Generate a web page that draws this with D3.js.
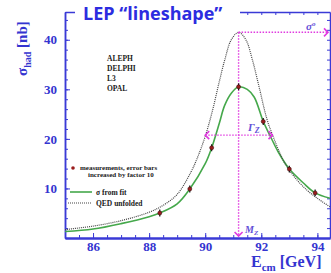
<!DOCTYPE html>
<meta charset="utf-8">
<html>
<head>
<title>LEP lineshape</title>
<style>
body { margin: 0; background: #fff; }
.axis path, .axis line { stroke: #3a3ad6; fill: none; }
.axis text { font-family: "Liberation Serif", serif; font-weight: bold; font-size: 13px; fill: #3434d0; }
.lbl { font-family: "Liberation Serif", serif; font-weight: bold; fill: #1a1a1a; font-size: 7.5px; }
.anno { font-family: "Liberation Serif", serif; font-style: italic; font-weight: bold; fill: #6450d8; }
</style>
</head>
<body>
<svg id="chart" width="331" height="273"></svg>
<script src="https://d3js.org/d3.v7.min.js"></script>
<script>

// QED unfolded curve (dotted)
var qedE     = [85, 86, 87, 88, 88.5, 89, 89.5, 89.75, 90, 90.25, 90.5, 90.7, 90.93, 91.19, 91.45, 91.68, 91.9, 92.2, 92.4, 92.8, 93.2, 93.6, 94, 94.45];
var qedSigma = [1.7, 2.4, 3.5, 5.2, 6.6, 8.8, 13.4, 16.6, 20.5, 25.5, 31.5, 36.0, 40.0, 41.5, 40.0, 36.0, 31.0, 24.0, 20.8, 15.5, 12.2, 9.8, 8.0, 6.3];

// sigma from fit (green)
var fitE     = [85, 86, 87, 88, 88.38, 89, 89.45, 90, 90.23, 90.5, 90.69, 90.93, 91.19, 91.5, 91.75, 92.07, 92.3, 92.6, 93.0, 93.5, 93.92, 94.45];
var fitSigma = [1.3, 1.8, 2.9, 4.3, 5.05, 6.9, 9.9, 15.0, 18.2, 23.1, 26.7, 29.2, 30.5, 30.0, 28.4, 23.5, 20.8, 17.4, 13.9, 11.1, 9.1, 8.0];

// measurements
var measE     = [88.38, 89.45, 90.23, 91.19, 92.07, 93.0, 93.92];
var measSigma = [5.05, 9.9, 18.2, 30.5, 23.5, 13.9, 9.1];

var xMajor = [86, 88, 90, 92, 94];
var yMajor = [10, 20, 30, 40];
var expNames = ["ALEPH", "DELPHI", "L3", "OPAL"];

var mZ = 91.19, sigma0 = 41.5, gammaLo = 90.0, gammaHi = 92.4;

var plotLeft = 65, plotRight = 330, plotTop = 12, plotBottom = 238;

var svg = d3.select("#chart");

var x = d3.scaleLinear().domain([85, 94.45]).range([plotLeft, plotRight]);
var y = d3.scaleLinear().domain([0, 45.6]).range([plotBottom, plotTop]);

var xMinor = d3.range(85, 94.5, 0.5);
var yMinor = d3.range(0, 45.6, 2);

// frame + ticks
function styleAxis(g, w) {
  g.attr("class", "axis");
  g.select(".domain").attr("stroke-width", w);
  g.selectAll("line").attr("stroke-width", 1);
}
svg.append("g").attr("transform", "translate(0," + plotBottom + ")")
  .call(d3.axisBottom(x).tickValues(xMinor).tickSize(-3).tickSizeOuter(0).tickFormat(""))
  .call(styleAxis, 2);
svg.append("g").attr("transform", "translate(0," + plotBottom + ")")
  .call(d3.axisBottom(x).tickValues(xMajor).tickSize(-5).tickSizeOuter(0).tickPadding(4).tickFormat(d3.format("d")))
  .call(styleAxis, 2);
svg.append("g").attr("transform", "translate(0," + plotTop + ")")
  .call(d3.axisTop(x).tickValues(xMinor).tickSize(-3).tickSizeOuter(0).tickFormat(""))
  .call(styleAxis, 1.5);
svg.append("g").attr("transform", "translate(" + plotLeft + ",0)")
  .call(d3.axisLeft(y).tickValues(yMinor).tickSize(-3).tickSizeOuter(0).tickFormat(""))
  .call(styleAxis, 1.5);
svg.append("g").attr("transform", "translate(" + plotLeft + ",0)")
  .call(d3.axisLeft(y).tickValues(yMajor).tickSize(-5).tickSizeOuter(0).tickPadding(8).tickFormat(d3.format("d")))
  .call(styleAxis, 1.5);
svg.append("g").attr("transform", "translate(" + plotRight + ",0)")
  .call(d3.axisLeft(y).tickValues(yMinor).tickSize(3).tickSizeOuter(0).tickFormat(""))
  .call(styleAxis, 1.5);

// curves
var line = d3.line()
  .x(function(d) { return x(d[0]); })
  .y(function(d) { return y(d[1]); })
  .curve(d3.curveCatmullRom.alpha(0.5));

svg.append("path")
  .datum(d3.zip(fitE, fitSigma))
  .attr("d", line)
  .attr("fill", "none").attr("stroke", "#45a84b").attr("stroke-width", 1.6);

svg.append("path")
  .datum(d3.zip(qedE, qedSigma))
  .attr("d", line)
  .attr("fill", "none").attr("stroke", "#444").attr("stroke-width", 1.2)
  .attr("stroke-dasharray", "1,1");

// pink annotations
var pink = "#e03be0";
svg.append("line")
  .attr("x1", x(mZ)).attr("x2", x(mZ)).attr("y1", y(sigma0)).attr("y2", plotBottom - 2)
  .attr("stroke", pink).attr("stroke-width", 1.4).attr("stroke-dasharray", "1.5,1.5");
svg.append("line")
  .attr("x1", x(mZ)).attr("x2", plotRight - 2).attr("y1", y(sigma0)).attr("y2", y(sigma0))
  .attr("stroke", pink).attr("stroke-width", 1.4).attr("stroke-dasharray", "1.5,1.5");
svg.append("line")
  .attr("x1", x(gammaLo)).attr("x2", x(gammaHi)).attr("y1", y(sigma0 / 2)).attr("y2", y(sigma0 / 2))
  .attr("stroke", pink).attr("stroke-width", 1.4).attr("stroke-dasharray", "1.5,1.5");

function chevron(px, py, dir) {
  // dir: "down", "right", "left"
  var s = 4, pts;
  if (dir == "down") pts = [[px - s, py - s], [px, py], [px + s, py - s]];
  if (dir == "right") pts = [[px - s, py - s], [px, py], [px - s, py + s]];
  if (dir == "left") pts = [[px + s, py - s], [px, py], [px + s, py + s]];
  svg.append("path").attr("d", d3.line()(pts))
    .attr("fill", "none").attr("stroke", pink).attr("stroke-width", 1.6);
}
chevron(x(mZ), plotBottom - 2, "down");
chevron(plotRight - 2, y(sigma0), "right");
chevron(x(gammaLo), y(sigma0 / 2), "left");
chevron(x(gammaHi), y(sigma0 / 2), "right");

// measurement points
var pts = svg.append("g");
pts.selectAll("line").data(d3.zip(measE, measSigma)).enter().append("line")
  .attr("x1", function(d) { return x(d[0]); })
  .attr("x2", function(d) { return x(d[0]); })
  .attr("y1", function(d) { return y(d[1] + 0.7); })
  .attr("y2", function(d) { return y(d[1] - 0.7); })
  .attr("stroke", "#111").attr("stroke-width", 1.2);
pts.selectAll("circle").data(d3.zip(measE, measSigma)).enter().append("circle")
  .attr("cx", function(d) { return x(d[0]); })
  .attr("cy", function(d) { return y(d[1]); })
  .attr("r", 2)
  .attr("fill", "#9a1c1c").attr("stroke", "#3a1010").attr("stroke-width", 0.6);

// annotation labels
var s0 = svg.append("text").attr("class", "anno").attr("x", 306).attr("y", 30).style("font-size", "11px");
s0.append("tspan").text("σ");
s0.append("tspan").attr("dy", -4).style("font-size", "7px").text("o");
var gz = svg.append("text").attr("class", "anno").attr("x", 248).attr("y", 131).style("font-size", "11px");
gz.append("tspan").text("Γ");
gz.append("tspan").attr("dy", 2).style("font-size", "8px").text("Z");
var mz = svg.append("text").attr("class", "anno").attr("x", 245).attr("y", 233).style("font-size", "10px");
mz.append("tspan").text("M");
mz.append("tspan").attr("dy", 2).style("font-size", "7px").text("Z");

// experiments
svg.selectAll(".exp").data(expNames).enter().append("text")
  .attr("class", "lbl exp")
  .attr("x", 107)
  .attr("y", function(d, i) { return 61 + i * 10; })
  .text(function(d) { return d; });

// legend
svg.append("circle").attr("cx", 73).attr("cy", 168).attr("r", 1.8).attr("fill", "#9a1c1c");
svg.append("text").attr("class", "lbl").attr("x", 80).attr("y", 170).style("font-size", "7px").text("measurements, error bars");
svg.append("text").attr("class", "lbl").attr("x", 88).attr("y", 177).style("font-size", "7px").text("increased by factor 10");
svg.append("line").attr("x1", 70).attr("x2", 92).attr("y1", 192).attr("y2", 192)
  .attr("stroke", "#45a84b").attr("stroke-width", 1.6);
svg.append("text").attr("class", "lbl").attr("x", 96).attr("y", 194.5).text("σ from fit");
svg.append("line").attr("x1", 68).attr("x2", 92).attr("y1", 203).attr("y2", 203)
  .attr("stroke", "#444").attr("stroke-width", 1.2).attr("stroke-dasharray", "1,1");
svg.append("text").attr("class", "lbl").attr("x", 96).attr("y", 205.5).text("QED unfolded");

// axis titles
var yt = svg.append("text")
  .attr("transform", "translate(27,76) rotate(-90)")
  .style("font-family", "Liberation Serif, serif").style("font-weight", "bold")
  .style("font-size", "15px").attr("fill", "#3434d0");
yt.append("tspan").text("σ");
yt.append("tspan").attr("dy", 4).style("font-size", "10px").text("had");
yt.append("tspan").attr("dy", -4).text(" [nb]");

var xt = svg.append("text")
  .attr("x", 251).attr("y", 267)
  .style("font-family", "Liberation Serif, serif").style("font-weight", "bold")
  .style("font-size", "16px").attr("fill", "#3434d0");
xt.append("tspan").text("E");
xt.append("tspan").attr("dy", 4).style("font-size", "11px").text("cm");
xt.append("tspan").attr("dy", -4).text(" [GeV]");

// title over the frame
svg.append("rect").attr("x", 75).attr("y", 0).attr("width", 165).attr("height", 22).attr("fill", "#fff");
svg.append("text")
  .attr("x", 83).attr("y", 20)
  .style("font-family", "Open Sans, sans-serif").style("font-weight", "bold")
  .style("font-size", "18px").attr("fill", "#2c2ce0")
  .text("LEP “lineshape”");

</script>
</body>
</html>
